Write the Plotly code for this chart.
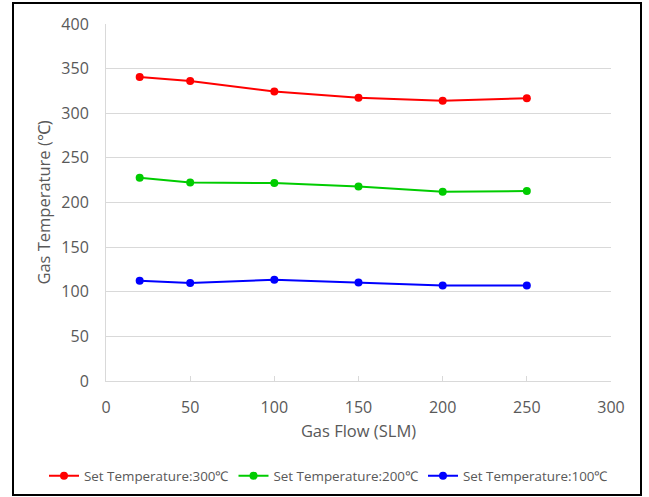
import plotly.graph_objects as go

gas_flow = [20, 50, 100, 150, 200, 250]
temp_300 = [340.5, 336.0, 324.5, 317.5, 314.0, 316.8]
temp_200 = [227.8, 222.5, 221.8, 218.0, 212.0, 212.8]
temp_100 = [112.4, 109.8, 113.5, 110.5, 107.1, 107.1]
series_names = ["Set Temperature:300℃", "Set Temperature:200℃", "Set Temperature:100℃"]
series_colors = ["#ff0000", "#00cc00", "#0000ff"]

fig = go.Figure()
for name, vals, col in zip(series_names, [temp_300, temp_200, temp_100], series_colors):
    fig.add_trace(go.Scatter(x=gas_flow, y=vals, name=name, mode="lines+markers",
                             line=dict(color=col, width=2),
                             marker=dict(color=col, size=8)))

L, R, T, B = 106, 611, 24, 381
W, H = 649, 497
pw, ph = R - L, B - T
def px(x): return (x - L) / pw
def py(y): return (B - y) / ph

FONT = "Open Sans, sans-serif"
GRAY = "#595959"

fig.update_layout(
    width=W, height=H,
    margin=dict(l=L, r=W - R, t=T, b=H - B, autoexpand=False),
    paper_bgcolor="white", plot_bgcolor="white",
    font=dict(family=FONT, color=GRAY, size=14),
    showlegend=True,
    legend=dict(orientation="h", x=px(44), xanchor="left", y=py(476), yanchor="middle",
                font=dict(size=13.4, color=GRAY), itemwidth=30, tracegroupgap=0,
                bgcolor="rgba(0,0,0,0)"),
    xaxis=dict(range=[0, 300], dtick=50, tick0=0, showgrid=False,
               showline=True, linecolor="#d9d9d9", linewidth=1,
               ticks="inside", ticklen=5, tickcolor="#d9d9d9",
               tickfont=dict(size=16, color=GRAY), ticklabelstandoff=12,
               title=dict(text="Gas Flow (SLM)", font=dict(size=16.5, color=GRAY), standoff=8),
               zeroline=False, fixedrange=True, automargin=False),
    yaxis=dict(range=[0, 400], dtick=50, tick0=0, showgrid=True, gridcolor="#d9d9d9",
               showline=True, linecolor="#d9d9d9", linewidth=1,
               tickfont=dict(size=16, color=GRAY), ticklabelstandoff=13,
               title=dict(text="Gas Temperature (℃)", font=dict(size=16.5, color=GRAY), standoff=6),
               zeroline=False, fixedrange=True, automargin=False),
)

fig.add_shape(type="rect", xref="paper", yref="paper",
              x0=px(13), x1=px(641), y0=py(495), y1=py(3),
              line=dict(color="black", width=2), fillcolor="rgba(0,0,0,0)", layer="above")

fig.write_html("out.html", config={"displayModeBar": False},
               post_script="document.body.style.margin='0';")
